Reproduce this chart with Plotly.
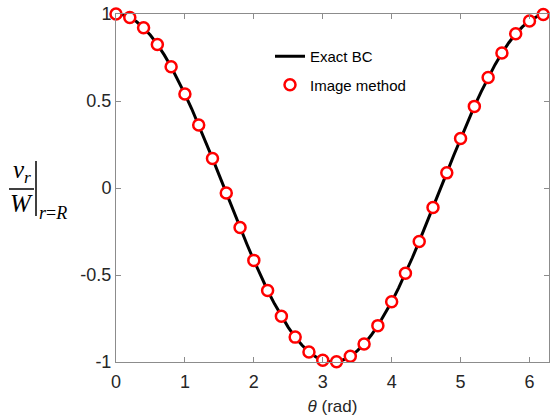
import plotly.graph_objects as go

# Exact BC curve
theta_line = [0.0, 0.1, 0.2, 0.3, 0.4, 0.5, 0.6, 0.7, 0.8, 0.9, 1.0, 1.1, 1.2, 1.3, 1.4, 1.5,
              1.6, 1.7, 1.8, 1.9, 2.0, 2.1, 2.2, 2.3, 2.4, 2.5, 2.6, 2.7, 2.8, 2.9, 3.0, 3.1,
              3.2, 3.3, 3.4, 3.5, 3.6, 3.7, 3.8, 3.9, 4.0, 4.1, 4.2, 4.3, 4.4, 4.5, 4.6, 4.7,
              4.8, 4.9, 5.0, 5.1, 5.2, 5.3, 5.4, 5.5, 5.6, 5.7, 5.8, 5.9, 6.0, 6.1, 6.2, 6.28]
vr_exact = [1.000, 0.995, 0.980, 0.955, 0.921, 0.878, 0.825, 0.765, 0.697, 0.622, 0.540, 0.454,
            0.362, 0.267, 0.170, 0.071, -0.029, -0.129, -0.227, -0.323, -0.416, -0.505, -0.589,
            -0.666, -0.737, -0.801, -0.857, -0.904, -0.942, -0.971, -0.990, -0.999, -0.998,
            -0.987, -0.967, -0.936, -0.897, -0.848, -0.791, -0.726, -0.654, -0.575, -0.490,
            -0.401, -0.307, -0.211, -0.112, -0.012, 0.087, 0.187, 0.284, 0.378, 0.469, 0.554,
            0.635, 0.709, 0.776, 0.835, 0.886, 0.927, 0.960, 0.983, 0.997, 1.000]

# Image method points
theta_pts = [0.0, 0.2, 0.4, 0.6, 0.8, 1.0, 1.2, 1.4, 1.6, 1.8, 2.0, 2.2, 2.4, 2.6, 2.8, 3.0,
             3.2, 3.4, 3.6, 3.8, 4.0, 4.2, 4.4, 4.6, 4.8, 5.0, 5.2, 5.4, 5.6, 5.8, 6.0, 6.2]
vr_image = [1.000, 0.980, 0.921, 0.825, 0.697, 0.540, 0.362, 0.170, -0.029, -0.227, -0.416,
            -0.589, -0.737, -0.857, -0.942, -0.990, -0.998, -0.967, -0.897, -0.791, -0.654,
            -0.490, -0.307, -0.112, 0.087, 0.284, 0.469, 0.635, 0.776, 0.886, 0.960, 0.997]

xticks = [0, 1, 2, 3, 4, 5, 6]
yticks = [-1, -0.5, 0, 0.5, 1]
ytick_labels = ["-1", "-0.5", "0", "0.5", "1"]

W, H = 552, 419
L, R, T, B = 116, 3, 14, 57
pw, ph = W - L - R, H - T - B

def px(x):
    return (x - L) / pw

def py(y):
    return (H - B - y) / ph

fig = go.Figure()
fig.add_trace(go.Scatter(x=theta_line, y=vr_exact, mode="lines", name="Exact BC",
                         legendgroup="a",
                         line=dict(color="black", width=3), cliponaxis=False))
fig.add_trace(go.Scatter(x=theta_pts, y=vr_image, mode="markers", name="Image method",
                         legendgroup="b",
                         marker=dict(symbol="circle", size=11, color="white",
                                     line=dict(color="#ff0000", width=2.5)),
                         cliponaxis=False))

tickfont = dict(family="Liberation Sans, Arial", size=18, color="#262626")
axis_common = dict(showgrid=False, zeroline=False, showline=True, linecolor="#8c8c8c",
                   linewidth=1, mirror="ticks", ticks="inside", ticklen=5, tickcolor="#8c8c8c",
                   tickfont=tickfont)

fig.update_xaxes(range=[0, 6.2832], tickvals=xticks, ticklabelstandoff=3,
                 title=dict(text="<i>θ</i> (rad)", font=dict(family="Liberation Sans, Arial",
                                                              size=17, color="#262626"),
                            standoff=9),
                 **axis_common)
fig.update_yaxes(range=[-1, 1], tickvals=yticks, ticktext=ytick_labels, **axis_common)

serif = "Liberation Serif, Times New Roman, serif"
annotations = [
    dict(x=px(22), y=py(171), text="<i>v</i><sub><i>r</i></sub>", font=dict(family=serif, size=25, color="black")),
    dict(x=px(21), y=py(203), text="<i>W</i>", font=dict(family=serif, size=25, color="black")),
    dict(x=px(37), y=py(213), text="<i>r</i>=<i>R</i>", xanchor="left",
         font=dict(family=serif, size=18, color="black")),
]
for a in annotations:
    a.update(xref="paper", yref="paper", showarrow=False)
    a.setdefault("xanchor", "center")
    a["yanchor"] = "middle"
fig.update_layout(annotations=annotations)

fig.add_shape(type="line", xref="paper", yref="paper", x0=px(9), x1=px(34), y0=py(189), y1=py(189),
              line=dict(color="black", width=1.5))
fig.add_shape(type="line", xref="paper", yref="paper", x0=px(36), x1=px(36), y0=py(161), y1=py(216),
              line=dict(color="black", width=1.5))

fig.update_layout(
    width=W, height=H,
    margin=dict(l=L, r=R, t=T, b=B),
    plot_bgcolor="white", paper_bgcolor="white",
    legend=dict(x=px(270), y=py(40), xanchor="left", yanchor="top",
                bgcolor="rgba(0,0,0,0)", font=dict(family="Liberation Sans, Arial", size=15, color="black"),
                tracegroupgap=6, itemwidth=30),
)

fig.write_html("out.html")
